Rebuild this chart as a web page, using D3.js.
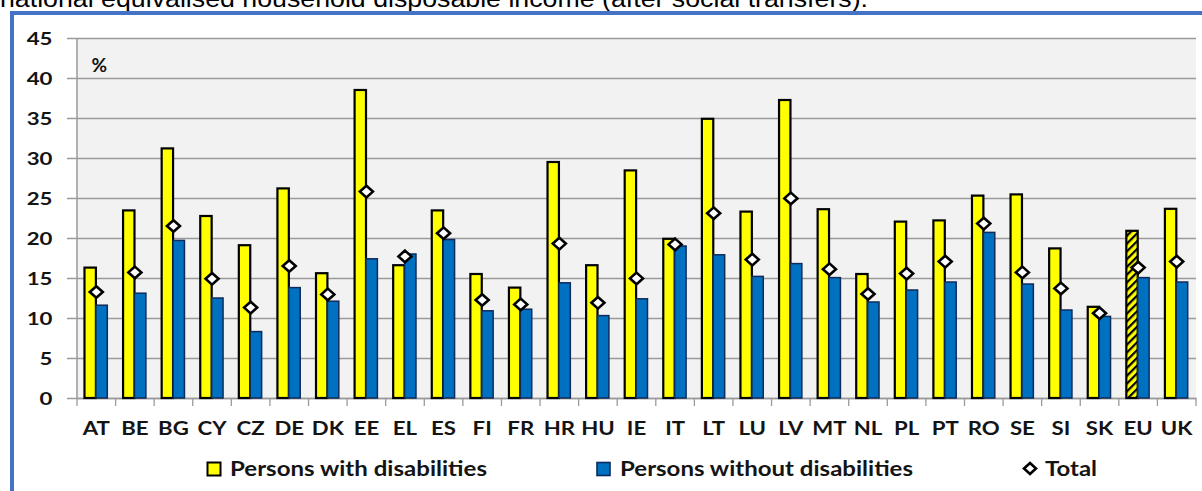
<!DOCTYPE html>
<html><head><meta charset="utf-8">
<script src="https://cdn.jsdelivr.net/npm/d3@7/dist/d3.min.js"></script>
<style>body{margin:0;background:#fff;overflow:hidden}</style>
</head><body><svg id="c" width="1202" height="491"></svg>
<script>
const categories = ["AT","BE","BG","CY","CZ","DE","DK","EE","EL","ES","FI","FR","HR","HU","IE","IT","LT","LU","LV","MT","NL","PL","PT","RO","SE","SI","SK","EU","UK"];
const withDisabilities = [16.3,23.45,31.2,22.75,19.1,26.2,15.6,38.5,16.6,23.45,15.5,13.8,29.5,16.6,28.45,19.9,34.9,23.3,37.25,23.6,15.5,22.05,22.2,25.3,25.45,18.7,11.4,20.9,23.65];
const withoutDisabilities = [11.6,13.1,19.7,12.5,8.3,13.8,12.1,17.4,18.0,19.8,10.9,11.1,14.4,10.3,12.4,19.0,17.9,15.2,16.8,15.05,12.0,13.5,14.5,20.7,14.25,11.0,10.2,15.05,14.5];
const total = [13.25,15.7,21.5,14.9,11.3,16.5,12.95,25.8,17.7,20.6,12.25,11.7,19.3,11.9,14.95,19.2,23.1,17.3,24.95,16.1,13.0,15.55,17.05,21.8,15.7,13.7,10.6,16.3,17.05];
const yTicks = [0,5,10,15,20,25,30,35,40,45];
const seriesNames = ["Persons with disabilities","Persons without disabilities","Total"];
const titleText = "national equivalised household disposable income (after social transfers).";

(function(){
const svg = d3.select("#c");
const font = "Lato, 'Open Sans', sans-serif";
const ink = "#141414";

const defs = svg.append("defs");
const pat = defs.append("pattern").attr("id","hatch").attr("patternUnits","userSpaceOnUse")
  .attr("width",5.5).attr("height",5.5).attr("patternTransform","rotate(45)");
pat.append("rect").attr("width",5.5).attr("height",5.5).attr("fill","#FFFF00");
pat.append("rect").attr("width",2.2).attr("height",5.5).attr("fill","#000");

svg.append("text").attr("x",0).attr("y",6.5).attr("font-family","'Liberation Sans', Arial, sans-serif")
  .attr("font-size",23).attr("fill","#000").attr("textLength",868).attr("lengthAdjust","spacingAndGlyphs").text(titleText);

svg.append("rect").attr("x",12).attr("y",13).attr("width",1230).attr("height",520)
  .attr("fill","#fff").attr("stroke","#4472C4").attr("stroke-width",4);

const pL = 77, pR = 1196, pT = 38, pB = 398;
const x = d3.scaleBand().domain(categories).range([pL,pR]).padding(0);
const y = d3.scaleLinear().domain([0,45]).range([pB,pT]);
const sub = d3.scaleBand().domain([0,1]).range([-11.8,11]).padding(0);

svg.append("rect").attr("x",pL).attr("y",pT).attr("width",pR-pL).attr("height",pB-pT).attr("fill","#F2F2F2");

const yAxis = d3.axisLeft(y).tickValues(yTicks).tickSize(-(pR-pL)).tickPadding(0).tickSizeOuter(0);
const gy = svg.append("g").attr("transform",`translate(${pL},0)`).call(yAxis);
gy.select(".domain").remove();
gy.selectAll(".tick line").attr("stroke","#9A9A9A").attr("stroke-width",1.6).attr("x1",-10);
gy.selectAll(".tick text").attr("font-family",font).attr("font-weight",700).attr("font-size",17.8).attr("fill",ink)
  .attr("x",0).attr("dy","0.36em").attr("transform","translate(-24.5,0) scale(1.25,1)");

svg.append("line").attr("x1",pL).attr("x2",pL).attr("y1",pT).attr("y2",pB).attr("stroke","#9A9A9A").attr("stroke-width",1.5);

const xAxis = d3.axisBottom(x).tickSize(0).tickPadding(0);
const gx = svg.append("g").attr("transform",`translate(0,${pB})`).call(xAxis);
gx.select(".domain").attr("stroke","#9A9A9A").attr("stroke-width",1.6);
gx.selectAll(".tick text").attr("font-family",font).attr("font-weight",700).attr("font-size",18.5).attr("fill",ink)
  .attr("y",0).attr("dy",0).attr("transform","translate(0,37) scale(1.2,1)");
const bounds = categories.map(c=>x(c)).concat([pR]);
svg.append("g").selectAll("line").data(bounds).join("line")
  .attr("x1",d=>d).attr("x2",d=>d).attr("y1",pB).attr("y2",pB+8).attr("stroke","#9A9A9A").attr("stroke-width",1.3);

const cx = c => x(c)+x.bandwidth()/2;

const bars = svg.append("g");
bars.selectAll("rect.w").data(categories).join("rect").attr("class","w")
  .attr("x",c=>cx(c)+sub(0)).attr("width",sub.bandwidth())
  .attr("y",(c,i)=>y(withDisabilities[i])).attr("height",(c,i)=>y(0)-y(withDisabilities[i]))
  .attr("fill",c=>c==="EU"?"url(#hatch)":"#FFFF00").attr("stroke","#000").attr("stroke-width",2.2);
bars.selectAll("rect.wo").data(categories).join("rect").attr("class","wo")
  .attr("x",c=>cx(c)+sub(1)).attr("width",sub.bandwidth())
  .attr("y",(c,i)=>y(withoutDisabilities[i])).attr("height",(c,i)=>y(0)-y(withoutDisabilities[i]))
  .attr("fill","#0070C0").attr("stroke","#0F2B5B").attr("stroke-width",1.5);

const diamond = (w,h) => `M0,${-h}L${w},0L0,${h}L${-w},0Z`;
svg.append("g").selectAll("path").data(categories).join("path")
  .attr("transform",(c,i)=>`translate(${cx(c)},${y(total[i])})`)
  .attr("d",diamond(6.5,5.8)).attr("fill","#fff").attr("stroke","#000").attr("stroke-width",2.6);

svg.append("text").attr("x",91.5).attr("y",71.5).attr("font-family",font).attr("font-weight",700).attr("font-size",19).attr("fill",ink).text("%");

const lg = svg.append("g").attr("font-family",font).attr("font-weight",700).attr("font-size",21.5).attr("fill",ink);
lg.append("rect").attr("x",207.5).attr("y",462.5).attr("width",13).attr("height",13).attr("fill","#FFFF00").attr("stroke","#000").attr("stroke-width",2);
lg.append("text").attr("x",230).attr("y",476).attr("textLength",257).attr("lengthAdjust","spacingAndGlyphs").text(seriesNames[0]);
lg.append("rect").attr("x",597).attr("y",462.5).attr("width",13).attr("height",13).attr("fill","#0070C0").attr("stroke","#0F2B5B").attr("stroke-width",1.6);
lg.append("text").attr("x",620).attr("y",476).attr("textLength",293).attr("lengthAdjust","spacingAndGlyphs").text(seriesNames[1]);
lg.append("path").attr("transform","translate(1030,468.5)").attr("d",diamond(6,5.5)).attr("fill","#fff").attr("stroke","#000").attr("stroke-width",2.6);
lg.append("text").attr("x",1045).attr("y",476).attr("textLength",52).attr("lengthAdjust","spacingAndGlyphs").text(seriesNames[2]);
})();
</script></body></html>
